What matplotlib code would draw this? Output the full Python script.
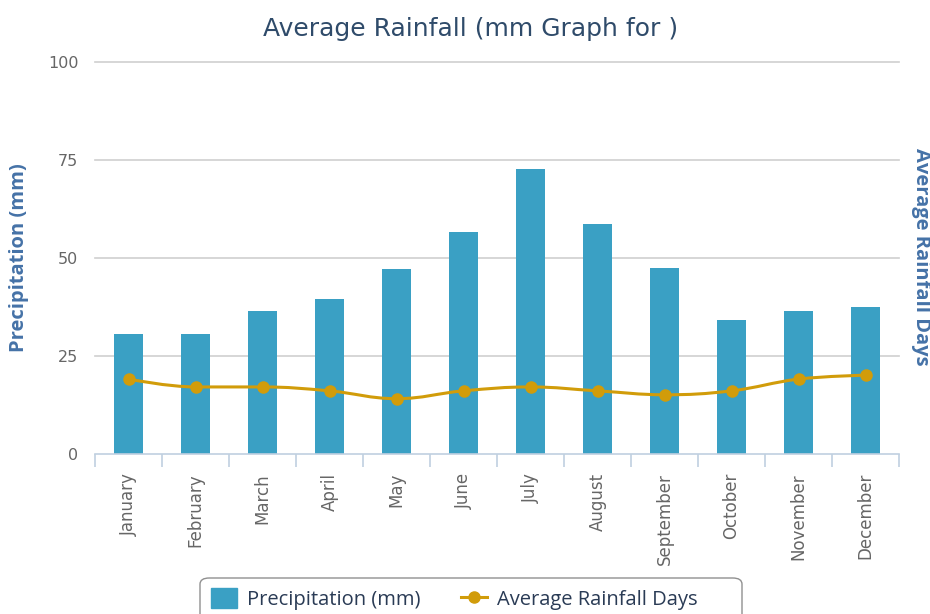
import matplotlib
matplotlib.use("Agg")
import matplotlib.pyplot as plt
import numpy as np
from matplotlib.path import Path
from matplotlib.patches import PathPatch, FancyBboxPatch
from matplotlib.lines import Line2D
from matplotlib.patches import Patch

months = ["January", "February", "March", "April", "May", "June",
          "July", "August", "September", "October", "November", "December"]
precip_mm = [30.4, 30.4, 36.5, 39.4, 47.0, 56.5, 72.6, 58.6, 47.3, 34.0, 36.5, 37.4]
rain_days = [19, 17, 17, 16, 14, 16, 17, 16, 15, 16, 19, 20]
y_ticks = [0, 25, 50, 75, 100]

BAR = "#3aa0c4"
LINE = "#d19c0a"
GRID = "#cfcfcf"
AXIS = "#c0d0e0"
TITLE = "#2f4b6a"
YLAB = "#4572a7"
SANS = ["Open Sans", "DejaVu Sans"]
W, H = 930, 614


def spline_path(xs, ys, smoothing=1.5):
    # cubic bezier through every point, control points like a Highcharts spline
    verts = [(xs[0], ys[0])]
    codes = [Path.MOVETO]
    n = len(xs)
    ctrl = []
    for i in range(n):
        if i == 0 or i == n - 1:
            ctrl.append(((xs[i], ys[i]), (xs[i], ys[i])))
            continue
        d = smoothing + 1
        lx = (smoothing * xs[i] + xs[i - 1]) / d
        ly = (smoothing * ys[i] + ys[i - 1]) / d
        rx = (smoothing * xs[i] + xs[i + 1]) / d
        ry = (smoothing * ys[i] + ys[i + 1]) / d
        corr = (ry - ly) * (rx - xs[i]) / (rx - lx) + ys[i] - ry
        ly += corr
        ry += corr
        if ly > max(ys[i - 1], ys[i]):
            lm = max(ys[i - 1], ys[i])
            ry = 2 * ys[i] - lm
            ly = lm
        elif ly < min(ys[i - 1], ys[i]):
            lm = min(ys[i - 1], ys[i])
            ry = 2 * ys[i] - lm
            ly = lm
        if ry > max(ys[i + 1], ys[i]):
            rm = max(ys[i + 1], ys[i])
            ly = 2 * ys[i] - rm
            ry = rm
        elif ry < min(ys[i + 1], ys[i]):
            rm = min(ys[i + 1], ys[i])
            ly = 2 * ys[i] - rm
            ry = rm
        ctrl.append(((lx, ly), (rx, ry)))
    for i in range(1, n):
        verts += [ctrl[i - 1][1], ctrl[i][0], (xs[i], ys[i])]
        codes += [Path.CURVE4, Path.CURVE4, Path.CURVE4]
    return Path(verts, codes)


fig = plt.figure(figsize=(W / 100, H / 100), dpi=100)
ax = fig.add_axes([95 / W, 1 - 453.5 / H, (899 - 95) / W, (453.5 - 62) / H])

x = np.arange(len(months))
ax.bar(x, precip_mm, width=0.43, color=BAR, zorder=2)

ax2 = ax.twinx()
path = spline_path(list(x.astype(float)), list(map(float, rain_days)))
ax2.add_patch(PathPatch(path, facecolor="none", edgecolor=LINE, lw=2.2, zorder=3))
ax2.plot(x, rain_days, "o", color=LINE, ms=8, zorder=4)

for a in (ax, ax2):
    a.set_xlim(-0.5, 11.5)
    a.set_ylim(0, 100)
    for s in a.spines.values():
        s.set_visible(False)

ax.set_yticks(y_ticks)
ax.set_yticklabels([str(t) for t in y_ticks], color="#666666", fontsize=11.5,
                   family="DejaVu Sans")
ax.tick_params(axis="y", length=0, pad=12)
for t in y_ticks[1:]:
    ax.axhline(t, color=GRID, lw=1.2, zorder=1, clip_on=False)
ax.spines["bottom"].set_visible(True)
ax.spines["bottom"].set_color(AXIS)
ax.spines["bottom"].set_linewidth(1.2)

ax.set_xticks(x)
ax.set_xticklabels(months, rotation=90, color="#666666", fontsize=12,
                   family="DejaVu Sans")
ax.tick_params(axis="x", length=0, pad=14)
ax.set_xticks(np.arange(-0.5, 12.0, 1), minor=True)
ax.tick_params(axis="x", which="minor", length=9, color=AXIS, width=1.2)

# axis titles, placed in figure pixels
ax2.set_yticks([])
fig.text(19 / W, 1 - 258 / H, "Precipitation (mm)", rotation=90, ha="center",
         va="center", color=YLAB, fontsize=14.5, fontweight="bold", family=SANS)
fig.text(921 / W, 1 - 257 / H, "Average Rainfall Days", rotation=270, ha="center",
         va="center", color=YLAB, fontsize=14.5, fontweight="bold", family=SANS)

fig.text(471 / W, 1 - 29 / H, "Average Rainfall (mm Graph for )", ha="center",
         va="center", fontsize=18, color=TITLE, family="DejaVu Sans")

# legend box runs past the lower edge of the figure
frame = FancyBboxPatch((200 / W, 1 - 640 / H), 542 / W, 62 / H,
                       boxstyle="round,pad=0,rounding_size=0.01",
                       transform=fig.transFigure, facecolor="white",
                       edgecolor="#909090", lw=1.0, clip_on=False)
fig.add_artist(frame)

handles = [Patch(facecolor=BAR, edgecolor=BAR),
           Line2D([0], [0], color=LINE, lw=2.2, marker="o", ms=8)]
leg = fig.legend(handles, ["Precipitation (mm)", "Average Rainfall Days"],
                 loc="center left", bbox_to_anchor=(211 / W, 1 - 599 / H),
                 ncol=2, frameon=False, prop={"family": SANS, "size": 14.5},
                 handlelength=1.3, handleheight=1.1, handletextpad=0.5,
                 columnspacing=2.0, borderpad=0, borderaxespad=0)
for t in leg.get_texts():
    t.set_color("#2a3b55")

fig.savefig("out.png", dpi=100)
